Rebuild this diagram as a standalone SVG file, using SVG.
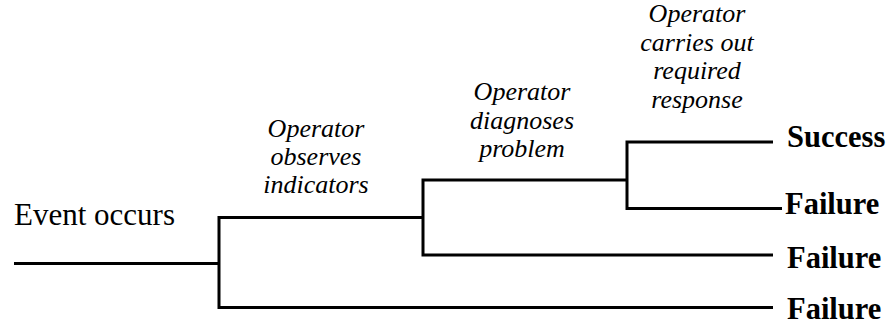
<svg xmlns="http://www.w3.org/2000/svg" width="890" height="327" viewBox="0 0 890 327">
  <style>
    .edge { fill: none; stroke: #000; stroke-width: 3; stroke-linecap: butt; stroke-linejoin: miter; }
    .start { font-family: "Liberation Serif", "Times New Roman", serif; font-size: 31px; fill: #000; }
    .step { font-family: "Liberation Serif", "Times New Roman", serif; font-size: 26px; font-style: italic; fill: #000; text-anchor: middle; }
    .outcome { font-family: "Liberation Serif", "Times New Roman", serif; font-size: 30.5px; font-weight: bold; fill: #000; }
  </style>
  <rect width="890" height="327" fill="#fff"/>

  <!-- event tree branches -->
  <g id="connectors">
    <path class="edge" d="M14,263.5 H219"/>
    <path class="edge" d="M423,217.5 H219 V307.5 H773"/>
    <path class="edge" d="M627,180 H423 V255 H773"/>
    <path class="edge" d="M773,142 H627 V208.5 H782"/>
  </g>

  <g id="event">
    <text class="start" x="14" y="225">Event occurs</text>
  </g>

  <g id="observe">
    <text class="step" x="316" y="137">Operator</text>
    <text class="step" x="316" y="165">observes</text>
    <text class="step" x="316" y="193">indicators</text>
  </g>

  <g id="diagnose">
    <text class="step" x="522" y="100">Operator</text>
    <text class="step" x="522" y="129">diagnoses</text>
    <text class="step" x="522" y="157">problem</text>
  </g>

  <g id="respond">
    <text class="step" x="697" y="22">Operator</text>
    <text class="step" x="697" y="51">carries out</text>
    <text class="step" x="697" y="79">required</text>
    <text class="step" x="697" y="108">response</text>
  </g>

  <g id="success">
    <text class="outcome" x="787" y="147">Success</text>
  </g>
  <g id="failure-response">
    <text class="outcome" x="785" y="214">Failure</text>
  </g>
  <g id="failure-diagnosis">
    <text class="outcome" x="787" y="268">Failure</text>
  </g>
  <g id="failure-observation">
    <text class="outcome" x="787" y="319">Failure</text>
  </g>
</svg>
